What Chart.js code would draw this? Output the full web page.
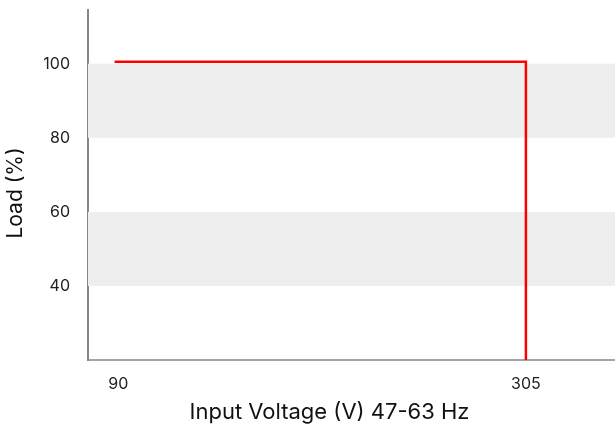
<!DOCTYPE html>
<html>
<head>
<meta charset="utf-8">
<script src="https://cdn.jsdelivr.net/npm/chart.js@4"></script>
<style>
  html, body { margin: 0; padding: 0; background: #fff; }
  #wrap { width: 615px; height: 428px; }
</style>
</head>
<body>
<div id="wrap"><canvas id="chLoad"></canvas></div>
<script>
// data
var voltage = [88, 305, 305];
var load = [100.5, 100.5, 20];
var xTicks = [90, 305];
var yTicks = [40, 60, 80, 100];
var bands = [[40, 60], [80, 100]];

var fontFamily = "Inter, 'Liberation Sans', Arial, sans-serif";

// grey bands behind the line
var bandPlugin = {
  id: 'bands',
  beforeDatasetsDraw: function (chart) {
    var ctx = chart.ctx, area = chart.chartArea, y = chart.scales.y;
    ctx.save();
    ctx.fillStyle = '#eeeeee';
    bands.forEach(function (b) {
      var top = y.getPixelForValue(b[1]);
      var bottom = y.getPixelForValue(b[0]);
      ctx.fillRect(area.left, top, area.right - area.left, bottom - top);
    });
    ctx.restore();
  }
};

// axis titles, both sit a little off centre in the reference
var titlePlugin = {
  id: 'titles',
  afterDraw: function (chart) {
    var ctx = chart.ctx, area = chart.chartArea;
    ctx.save();
    ctx.fillStyle = '#111';
    ctx.textAlign = 'center';
    ctx.textBaseline = 'middle';
    ctx.font = '22px ' + fontFamily;
    ctx.fillText('Input Voltage (V) 47-63 Hz', (area.left + area.right) / 2 - 22, 412);
    ctx.font = '21px ' + fontFamily;
    ctx.translate(16, (area.top + area.bottom) / 2 + 8);
    ctx.rotate(-Math.PI / 2);
    ctx.fillText('Load (%)', 0, 0);
    ctx.restore();
  }
};

new Chart(document.getElementById('chLoad'), {
  type: 'line',
  data: {
    datasets: [{
      data: voltage.map(function (v, i) { return { x: v, y: load[i] }; }),
      borderColor: '#ff0000',
      borderWidth: 2.5,
      pointRadius: 0,
      fill: false,
      tension: 0
    }]
  },
  options: {
    responsive: true,
    maintainAspectRatio: false,
    animation: false,
    layout: { padding: { top: 10, right: 0, left: 0, bottom: 0 } },
    plugins: {
      legend: { display: false },
      tooltip: { enabled: false }
    },
    scales: {
      x: {
        type: 'linear',
        min: 74,
        max: 352,
        afterBuildTicks: function (s) { s.ticks = xTicks.map(function (v) { return { value: v }; }); },
        afterFit: function (s) { s.height = 68; s.paddingLeft = 0; s.paddingRight = 0; },
        grid: { display: false },
        border: { display: true, color: '#a4a4a9', width: 2 },
        ticks: {
          padding: 7,
          color: '#222',
          font: { family: fontFamily, size: 16 }
        }
      },
      y: {
        min: 20,
        max: 114.5,
        afterBuildTicks: function (s) { s.ticks = yTicks.map(function (v) { return { value: v }; }); },
        afterFit: function (s) { s.width = 88; s.paddingTop = 0; s.paddingBottom = 0; },
        grid: { display: false },
        border: { display: true, color: '#87868c', width: 2 },
        ticks: {
          padding: 10,
          color: '#222',
          font: { family: fontFamily, size: 16 }
        }
      }
    }
  },
  plugins: [bandPlugin, titlePlugin]
});
</script>
</body>
</html>
